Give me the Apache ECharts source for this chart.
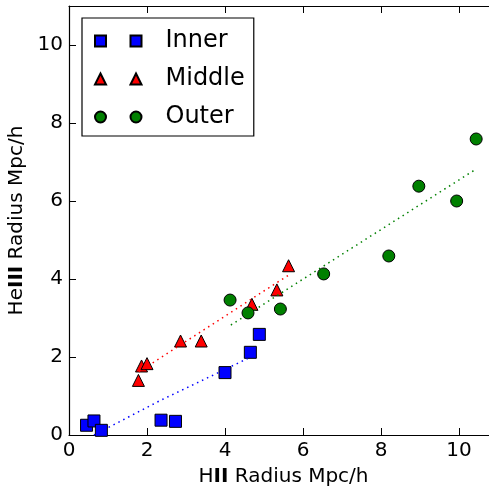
<!DOCTYPE html>
<html>
<head>
<meta charset="utf-8">
<script src="https://cdn.jsdelivr.net/npm/echarts@6/dist/echarts.min.js"></script>
<style>
  html, body { margin: 0; padding: 0; background: #ffffff; }
  #chart { width: 489px; height: 486px; }
</style>
</head>
<body>
<div id="chart"></div>
<script>
// Tick values shown on both axes
const axisTicks = [0, 2, 4, 6, 8, 10];

// Inner region: HII radius vs HeIII radius (Mpc/h)
const innerX = [0.45, 0.64, 0.83, 2.36, 2.73, 4.00, 4.65, 4.88];
const innerY = [0.25, 0.36, 0.12, 0.38, 0.35, 1.60, 2.12, 2.58];

// Middle region
const middleX = [1.78, 1.86, 2.00, 2.86, 3.39, 4.69, 5.33, 5.63];
const middleY = [1.40, 1.77, 1.83, 2.41, 2.41, 3.35, 3.72, 4.34];

// Outer region
const outerX = [4.13, 4.59, 5.42, 6.53, 8.20, 8.97, 9.94, 10.44];
const outerY = [3.46, 3.13, 3.23, 4.13, 4.59, 6.38, 6.00, 7.59];

// Fitted trend lines for each region
const innerFitX = [0.64, 2.33, 4.58];
const innerFitY = [0.00, 0.88, 1.96];
const middleFitX = [1.79, 5.63];
const middleFitY = [1.62, 4.10];
const outerFitX = [4.15, 10.44];
const outerFitY = [2.82, 6.82];

const pairs = (xs, ys) => xs.map((x, i) => [x, ys[i]]);

const FONT = 'DejaVu Sans';
const BLUE = '#0000ff', RED = '#ff0000', GREEN = '#008000';

// Legend icons: two markers side by side per entry
const ICON_SQUARE = 'path://M0,0h11v11h-11z M35.5,0h11v11h-11z';
const ICON_TRIANGLE = 'path://M5.5,0L11,11L0,11Z M41,0L46.5,11L35.5,11Z';
const ICON_CIRCLE = 'path://M0,5.5a5.5,5.5 0 1,0 11,0a5.5,5.5 0 1,0 -11,0Z M35.5,5.5a5.5,5.5 0 1,0 11,0a5.5,5.5 0 1,0 -11,0Z';

const tickLabel = v => (axisTicks.indexOf(v) >= 0 ? String(v) : '');

const baseAxis = {
  type: 'value',
  min: 0,
  max: 11,
  interval: 2,
  splitLine: { show: false },
  axisLine: { show: true, onZero: false, lineStyle: { color: '#000', width: 1.2 } },
  axisTick: { show: true, inside: true, length: 7, lineStyle: { color: '#000', width: 1 } },
};

const chart = echarts.init(document.getElementById('chart'), null, { renderer: 'canvas' });

const markerBorder = { borderColor: '#000', borderWidth: 1, opacity: 1 };

chart.setOption({
  animation: false,
  backgroundColor: '#ffffff',
  textStyle: { fontFamily: FONT },
  grid: { left: 69, top: 6, width: 429, height: 429, containLabel: false, outerBoundsMode: 'none' },
  legend: {
    orient: 'vertical',
    left: 82,
    top: 18,
    padding: [10, 9, 6, 12],
    itemGap: 12,
    itemWidth: 46.5,
    itemHeight: 11,
    borderColor: '#000',
    borderWidth: 1.2,
    backgroundColor: '#fff',
    textStyle: { fontFamily: FONT, fontSize: 24, color: '#000', lineHeight: 26, padding: [0, 0, 0, 19] },
    data: [
      { name: 'Inner', icon: ICON_SQUARE },
      { name: 'Middle', icon: ICON_TRIANGLE },
      { name: 'Outer', icon: ICON_CIRCLE }
    ]
  },
  xAxis: [
    Object.assign({}, baseAxis, {
      position: 'bottom',
      name: 'H{b|II} Radius Mpc/h',
      nameLocation: 'middle',
      nameGap: 32,
      nameTextStyle: {
        fontFamily: FONT, fontSize: 20, color: '#000',
        rich: { b: { fontFamily: FONT, fontSize: 20, fontWeight: 'bold', color: '#000' } }
      },
      axisLabel: { show: true, margin: 6, fontFamily: FONT, fontSize: 20, color: '#000', formatter: tickLabel, showMaxLabel: false }
    }),
    Object.assign({}, baseAxis, {
      position: 'top',
      axisLabel: { show: false }
    })
  ],
  yAxis: [
    Object.assign({}, baseAxis, {
      position: 'left',
      name: 'He{b|III} Radius Mpc/h',
      nameLocation: 'middle',
      nameGap: 32,
      nameTextStyle: {
        fontFamily: FONT, fontSize: 20, color: '#000',
        rich: { b: { fontFamily: FONT, fontSize: 20, fontWeight: 'bold', color: '#000' } }
      },
      axisLabel: { show: true, margin: 6, fontFamily: FONT, fontSize: 20, color: '#000', formatter: tickLabel, showMaxLabel: false }
    }),
    Object.assign({}, baseAxis, {
      position: 'right',
      axisLabel: { show: false }
    })
  ],
  series: [
    {
      name: 'Inner', type: 'scatter', symbol: 'rect', symbolSize: 12,
      itemStyle: Object.assign({ color: BLUE }, markerBorder),
      data: pairs(innerX, innerY), z: 3
    },
    {
      name: 'Middle', type: 'scatter', symbol: 'triangle', symbolSize: 12,
      itemStyle: Object.assign({ color: RED }, markerBorder),
      data: pairs(middleX, middleY), z: 3
    },
    {
      name: 'Outer', type: 'scatter', symbol: 'circle', symbolSize: 12,
      itemStyle: Object.assign({ color: GREEN }, markerBorder),
      data: pairs(outerX, outerY), z: 3
    },
    {
      name: 'Inner fit', type: 'line', showSymbol: false, symbol: 'none',
      lineStyle: { color: BLUE, width: 1.5, type: [1.5, 4] },
      data: pairs(innerFitX, innerFitY), z: 4
    },
    {
      name: 'Middle fit', type: 'line', showSymbol: false, symbol: 'none',
      lineStyle: { color: RED, width: 1.5, type: [1.5, 4] },
      data: pairs(middleFitX, middleFitY), z: 4
    },
    {
      name: 'Outer fit', type: 'line', showSymbol: false, symbol: 'none',
      lineStyle: { color: GREEN, width: 1.5, type: [1.5, 4] },
      data: pairs(outerFitX, outerFitY), z: 4
    }
  ]
});
</script>
</body>
</html>
